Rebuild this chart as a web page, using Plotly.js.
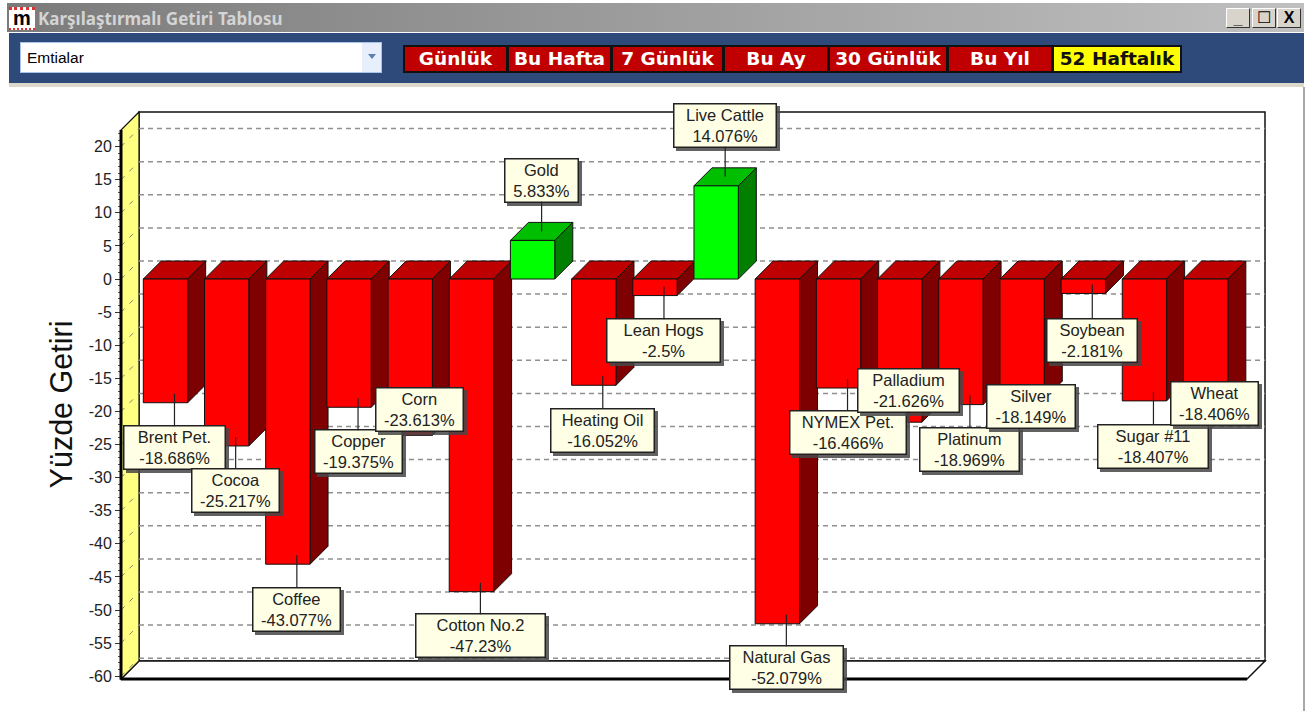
<!DOCTYPE html>
<html>
<head>
<meta charset="utf-8">
<script src="https://cdn.plot.ly/plotly-3.0.1.min.js"></script>
<style>
html,body{margin:0;padding:0;background:#fff;width:1316px;height:711px;overflow:hidden}
.abs{position:absolute;box-sizing:border-box}
#chart{position:absolute;left:0;top:0;width:1316px;height:711px}
.annotation rect.bg{filter:drop-shadow(3px 3px 0 rgba(70,70,70,.85))}
.btn{position:absolute;box-sizing:border-box;top:45px;height:28px;background:#c00000;border:2px solid #111;color:#fff;font:bold 18.5px "DejaVu Sans",sans-serif;text-align:center;line-height:24px;white-space:nowrap;overflow:hidden}
.wb{position:absolute;box-sizing:border-box;top:8px;width:24px;height:20px;background:#d8d4cc;border:1px solid;border-color:#fff #333 #333 #fff;color:#000;font:bold 16px "Liberation Sans",sans-serif;text-align:center;line-height:18px}
</style>
</head>
<body>
<div class="abs" style="left:7px;top:3px;width:1297px;height:29px;background:linear-gradient(90deg,#7b7b7b,#c0c0c0)"></div>
<div class="abs" style="left:9px;top:7px;width:26px;height:23px;background:#fff;color:#000;font:bold 20px 'Liberation Sans',sans-serif;text-align:center;line-height:16px;border-top:3px dotted #d33;border-bottom:2px dotted #d33">m</div>
<div class="abs" style="left:38px;top:7px;color:#d4d4d4;font:bold 17px 'Noto Sans',sans-serif;white-space:nowrap">Karşılaştırmalı Getiri Tablosu</div>
<div class="wb" style="left:1226px"><span style="position:relative;top:1px">_</span></div>
<div class="wb" style="left:1252px"><span style="font-weight:normal">☐</span></div>
<div class="wb" style="left:1277px">X</div>
<div class="abs" style="left:9px;top:33px;width:1295px;height:50px;background:#2d4a7a"></div>
<div class="abs" style="left:9px;top:83px;width:1295px;height:4px;background:#dcd8cc"></div>
<div class="abs" style="left:1303px;top:87px;width:2px;height:624px;background:#a8a8a8"></div>
<div class="abs" style="left:20px;top:42px;width:362px;height:31px;background:#fff;border:1px solid #a8c4e8"></div>
<div class="abs" style="left:362px;top:43px;width:19px;height:29px;background:#e6effb"></div>
<div class="abs" style="left:368px;top:54px;width:0;height:0;border-left:4px solid transparent;border-right:4px solid transparent;border-top:5px solid #5c7fb0"></div>
<div class="abs" style="left:27px;top:49px;color:#000;font:15.5px 'Liberation Sans',sans-serif">Emtialar</div>
<div class="btn" style="left:403px;width:105px">Günlük</div>
<div class="btn" style="left:507px;width:105px">Bu Hafta</div>
<div class="btn" style="left:611px;width:113px">7 Günlük</div>
<div class="btn" style="left:723px;width:106px">Bu Ay</div>
<div class="btn" style="left:828px;width:120px">30 Günlük</div>
<div class="btn" style="left:947px;width:106px">Bu Yıl</div>
<div class="btn" style="left:1052px;width:130px;background:#ffff00;color:#111">52 Haftalık</div>
<div id="chart"></div>
<script>
var categories = ["Brent Pet.","Cocoa","Coffee","Copper","Corn","Cotton No.2","Gold","Heating Oil","Lean Hogs","Live Cattle","Natural Gas","NYMEX Pet.","Palladium","Platinum","Silver","Soybean","Sugar #11","Wheat"];
var returns = [-18.686,-25.217,-43.077,-19.375,-23.613,-47.23,5.833,-16.052,-2.5,14.076,-52.079,-16.466,-21.626,-18.969,-18.149,-2.181,-18.407,-18.406];
var tickValues = [20,15,10,5,0,-5,-10,-15,-20,-25,-30,-35,-40,-45,-50,-55,-60];
var labelCenterY = [448,490,609,452,409.5,636,180,430.5,341,125,668,432.5,390,449,406.5,340,446,403.5];
var labelWidth = [102,88,88,88,88,130,74,104,114,103,114,117,102,100,89,91,111,88];

var L=121,R=1265,T=112,B=679,W=1316,H=711,depth=18;
var yMin=-60.42,yMax=25.23,xMin=-0.727,xMax=17.97;
var pxPerUnit=(B-T)/(yMax-yMin), pxPerCat=(R-L)/(xMax-xMin);
var bargap=0.275, hw=(1-bargap)*pxPerCat/2;
var indices=categories.map(function(_,i){return i});
var front=returns.map(function(v){return v>=0?'#00ff00':'#ff0000'});
var topC=returns.map(function(v){return v>=0?'#00bf00':'#bf0000'});
var sideC=returns.map(function(v){return v>=0?'#007f00':'#7f0000'});
var shapes=[];
var dx=depth/(R-L), dy=depth/(B-T);
var ink={color:'#111',width:1};
// back wall and floor
shapes.push({type:'rect',xref:'paper',yref:'paper',x0:dx,x1:1,y0:dy,y1:1,fillcolor:'#fff',line:{color:'#111',width:1.5},layer:'below'});
shapes.push({type:'path',xref:'paper',yref:'paper',path:'M 0 0 L '+dx+' '+dy+' L 1 '+dy+' L '+(1-dx)+' 0 Z',fillcolor:'#fff',line:{color:'#111',width:1.5},layer:'below'});
// left wall
shapes.push({type:'path',xref:'paper',yref:'paper',path:'M 0 0 L '+dx+' '+dy+' L '+dx+' 1 L 0 '+(1-dy)+' Z',fillcolor:'#ffff80',line:{color:'#111',width:1.2},layer:'below'});
// gridlines on the back wall and dashes on the side wall
tickValues.forEach(function(v){
  shapes.push({type:'line',xref:'paper',yref:'y',ysizemode:'pixel',yanchor:v,x0:dx,x1:1,y0:depth,y1:depth,line:{color:'#909090',width:1.5,dash:'5px 4px'},layer:'below'});
  shapes.push({type:'path',xref:'x',yref:'y',xsizemode:'pixel',ysizemode:'pixel',xanchor:xMin,yanchor:v,path:'M 0 0 L '+depth+' '+depth,line:{color:'#808080',width:1,dash:'5px 7px'},layer:'below'});
});
// depth faces of the bars
returns.forEach(function(v,i){
  var top=Math.max(v,0), h=Math.abs(v)*pxPerUnit;
  shapes.push({type:'path',xref:'x',yref:'y',xsizemode:'pixel',ysizemode:'pixel',xanchor:i,yanchor:top,
    path:'M '+(-hw)+' 0 L '+hw+' 0 L '+(hw+depth)+' '+depth+' L '+(-hw+depth)+' '+depth+' Z',fillcolor:topC[i],line:ink,layer:'below'});
  shapes.push({type:'path',xref:'x',yref:'y',xsizemode:'pixel',ysizemode:'pixel',xanchor:i,yanchor:top,
    path:'M '+hw+' 0 L '+(hw+depth)+' '+depth+' L '+(hw+depth)+' '+(depth-h)+' L '+hw+' '+(-h)+' Z',fillcolor:sideC[i],line:ink,layer:'below'});
});
// heavy axis lines
shapes.push({type:'line',xref:'paper',yref:'paper',x0:0,x1:1-dx,y0:0,y1:0,line:{color:'#000',width:3}});
shapes.push({type:'line',xref:'paper',yref:'paper',x0:0,x1:0,y0:0,y1:1-dy,line:{color:'#000',width:3}});

var annotations=returns.map(function(v,i){
  var tipY=B-(v-yMin)*pxPerUnit-9;
  return {x:i,y:v,xref:'x',yref:'y',xshift:9,yshift:9,axref:'pixel',ayref:'pixel',ax:0,ay:labelCenterY[i]-tipY,
    text:categories[i]+'<br>'+v+'%',showarrow:true,arrowhead:0,arrowwidth:1.2,arrowcolor:'#222',standoff:0,
    width:labelWidth[i]-4,height:40,borderpad:1,borderwidth:1.5,bordercolor:'#222',bgcolor:'#ffffe6',
    font:{family:'"Liberation Sans",Arial,sans-serif',size:16.5,color:'#222'},align:'center',valign:'middle',captureevents:false};
});

var minor=[];for(var m=22;m>=-60;m--){minor.push(m)}
Plotly.newPlot('chart',[{
  type:'bar',x:indices,y:returns,marker:{color:front,line:{color:'#111',width:1}},hoverinfo:'skip',base:0
}],{
  width:W,height:H,margin:{l:L,r:W-R,t:T,b:H-B,pad:0},autosize:false,bargap:bargap,showlegend:false,
  paper_bgcolor:'rgba(0,0,0,0)',plot_bgcolor:'rgba(0,0,0,0)',
  xaxis:{range:[xMin,xMax],visible:false,fixedrange:true},
  yaxis:{range:[yMin,yMax],tickmode:'array',tickvals:tickValues,ticktext:tickValues.map(String),showgrid:false,zeroline:false,showline:false,
    ticks:'outside',ticklen:5,tickwidth:1,tickcolor:'#333',tickfont:{family:'"Liberation Sans",Arial,sans-serif',size:16,color:'#222'},
    minor:{tickmode:'array',tickvals:minor,ticks:'outside',ticklen:2,tickwidth:1,tickcolor:'#555',showgrid:false},
    title:{text:'Yüzde Getiri',font:{family:'"Liberation Sans",Arial,sans-serif',size:30.5,color:'#111'},standoff:8},automargin:false,fixedrange:true},
  shapes:shapes,annotations:annotations
},{staticPlot:true,displayModeBar:false}).then(function(gd){
  // the reference centres the axis title on the front plane of the 3D box, not on the whole box
  var t=gd.querySelector('.ytitle');
  if(t){t.setAttribute('transform','translate(2,9) '+(t.getAttribute('transform')||''));}
});
</script>
</body>
</html>
